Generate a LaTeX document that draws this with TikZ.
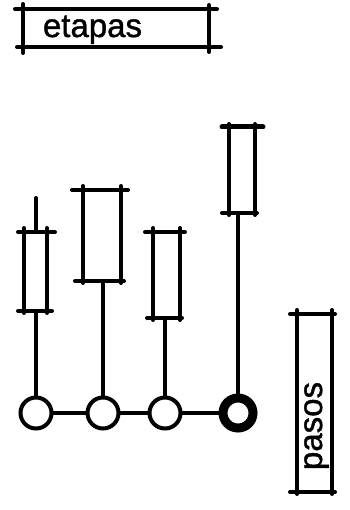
\documentclass[tikz,border=0pt]{standalone}
\usepackage{fontspec}
\setmainfont{Liberation Sans}
\newfontfamily\lblfont{Liberation Sans}[FakeBold=1.2]
\begin{document}
\begin{tikzpicture}[x=1pt,y=-1pt,
  ink/.style={line width=4pt,line cap=round},
  ring/.style={circle,draw,line width=4pt,minimum size=31pt,inner sep=0pt},
  thickring/.style={circle,draw,line width=9pt,minimum size=30pt,inner sep=0pt},
  lbl/.style={font=\lblfont\fontsize{33}{33}\selectfont,inner sep=0pt,anchor=base}]
\useasboundingbox (0,0) rectangle (349,510);
% etapas box
\draw[ink] (15,9) -- (217,9);
\draw[ink] (17,47) -- (221,47);
\draw[ink] (23,4) -- (23,53);
\draw[ink] (209,5) -- (209,52);
\node[lbl] (etapas) at (92.5,37) {etapas};
% pasos box
\draw[ink] (290,314) -- (335,314);
\draw[ink] (290,492) -- (335,492);
\draw[ink] (297,310) -- (297,494);
\draw[ink] (332,310) -- (332,494);
\node[lbl,rotate=90] (pasos) at (322,426) {pasos};
% circles
\node[ring] (c1) at (36,413) {};
\node[ring] (c2) at (103,413) {};
\node[ring] (c3) at (165,413) {};
\node[thickring] (c4) at (238,413) {};
\draw[ink] (c1) -- (c2);
\draw[ink] (c2) -- (c3);
\draw[ink] (c3) -- (c4);
% candle 1
\draw[ink] (18,232) -- (55,232);
\draw[ink] (18,311) -- (52,311);
\draw[ink] (24,228) -- (24,313);
\draw[ink] (47,228) -- (47,313);
\coordinate (w1) at (36,198);
\coordinate (t1) at (36,232);
\coordinate (b1) at (36,311);
\draw[ink] (w1) -- (t1);
\draw[ink] (b1) -- (c1);
% candle 2
\draw[ink] (72,190) -- (128,190);
\draw[ink] (75,281) -- (124,281);
\draw[ink] (83,186) -- (83,283);
\draw[ink] (121,186) -- (121,283);
\coordinate (b2) at (103,281);
\draw[ink] (b2) -- (c2);
% candle 3
\draw[ink] (145,232) -- (185,232);
\draw[ink] (147,318) -- (182,318);
\draw[ink] (153,228) -- (153,320);
\draw[ink] (180,228) -- (180,320);
\coordinate (b3) at (165,318);
\draw[ink] (b3) -- (c3);
% candle 4
\draw[ink,line width=5pt] (222,127) -- (263,127);
\draw[ink] (222,213) -- (257,213);
\draw[ink] (229,124) -- (229,215);
\draw[ink] (255,124) -- (255,215);
\coordinate (b4) at (238,213);
\draw[ink] (b4) -- (c4);
\end{tikzpicture}
\end{document}
